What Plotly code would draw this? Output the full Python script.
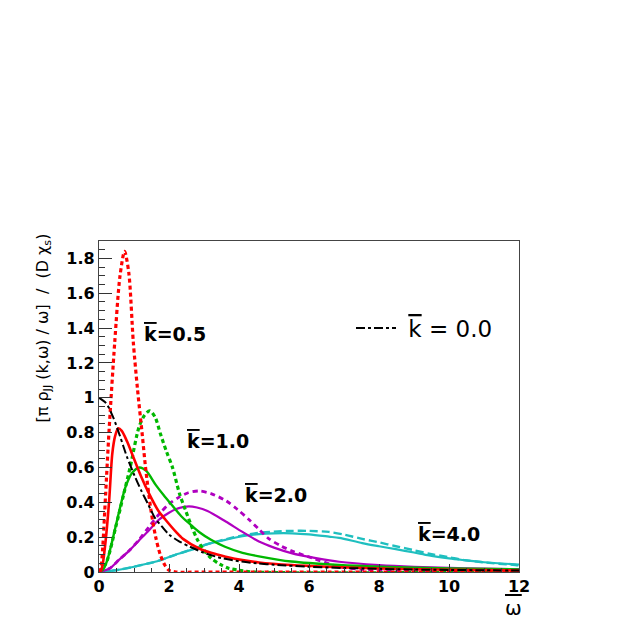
import plotly.graph_objects as go

# ---------------- data ----------------
w_k00 = [0, 0.2, 0.4, 0.6, 0.8, 1.0, 1.2, 1.4, 1.6, 1.8, 2.0, 2.3, 2.6, 3.0, 3.5, 4.0, 4.5, 5, 6, 7, 8, 9, 10, 11, 12]
v_k00 = [1.0, 0.97, 0.89, 0.78, 0.66, 0.56, 0.47, 0.39, 0.31, 0.26, 0.215, 0.175, 0.145, 0.11, 0.08, 0.062, 0.05, 0.042, 0.03, 0.023, 0.018, 0.014, 0.012, 0.010, 0.008]

w_k05_solid = [0, 0.05, 0.11, 0.19, 0.29, 0.38, 0.46, 0.55, 0.65, 0.8, 1.0, 1.2, 1.43, 1.7, 1.9, 2.2, 2.4, 2.86, 3.2, 3.62, 4.1, 4.57, 5.5, 6.5, 8, 10, 12]
v_k05_solid = [0, 0.005, 0.05, 0.18, 0.41, 0.68, 0.78, 0.825, 0.81, 0.75, 0.65, 0.55, 0.45, 0.35, 0.30, 0.23, 0.19, 0.135, 0.11, 0.088, 0.068, 0.055, 0.04, 0.03, 0.02, 0.013, 0.009]

w_k05_dot = [0, 0.05, 0.1, 0.19, 0.29, 0.45, 0.6, 0.73, 0.85, 0.98, 1.1, 1.24, 1.33, 1.48, 1.62, 1.75, 1.88, 2.0, 2.2, 3, 12]
v_k05_dot = [0, 0.02, 0.12, 0.45, 0.82, 1.32, 1.70, 1.84, 1.72, 1.32, 1.05, 0.78, 0.60, 0.36, 0.2, 0.1, 0.04, 0.01, 0.0, 0.0, 0.0]

w_k10_solid = [0, 0.12, 0.24, 0.38, 0.52, 0.76, 0.95, 1.16, 1.35, 1.62, 1.85, 2.1, 2.35, 2.6, 2.86, 3.2, 3.6, 4.1, 4.57, 5.5, 6.86, 8, 10, 12]
v_k10_solid = [0, 0.015, 0.07, 0.18, 0.30, 0.49, 0.57, 0.60, 0.58, 0.50, 0.44, 0.38, 0.32, 0.275, 0.23, 0.185, 0.145, 0.11, 0.09, 0.06, 0.04, 0.03, 0.02, 0.015]

w_k10_dot = [0, 0.2, 0.48, 0.71, 0.9, 1.14, 1.3, 1.45, 1.6, 1.76, 1.93, 2.1, 2.3, 2.48, 2.65, 2.8, 3.0, 3.2, 3.45, 3.7, 4.0, 4.4, 12]
v_k10_dot = [0, 0.05, 0.26, 0.45, 0.61, 0.83, 0.90, 0.925, 0.89, 0.79, 0.69, 0.60, 0.45, 0.35, 0.26, 0.19, 0.125, 0.08, 0.045, 0.022, 0.01, 0.0, 0.0]

w_k20_solid = [0, 0.3, 0.57, 0.85, 1.14, 1.43, 1.71, 2.0, 2.19, 2.4, 2.57, 2.8, 3.1, 3.62, 4.1, 4.57, 5.0, 5.52, 6.2, 6.86, 8, 9, 10, 11, 12]
v_k20_solid = [0, 0.02, 0.07, 0.12, 0.18, 0.24, 0.30, 0.34, 0.36, 0.372, 0.377, 0.37, 0.35, 0.29, 0.23, 0.175, 0.14, 0.107, 0.08, 0.059, 0.04, 0.03, 0.024, 0.019, 0.016]

w_k20_dot = [0, 0.3, 0.57, 0.85, 1.14, 1.43, 1.71, 2.0, 2.29, 2.55, 2.86, 3.2, 3.62, 3.95, 4.29, 4.57, 4.86, 5.2, 5.52, 6.1, 6.86, 7.5, 8.5, 10, 12]
v_k20_dot = [0, 0.02, 0.07, 0.12, 0.185, 0.26, 0.33, 0.39, 0.43, 0.455, 0.465, 0.45, 0.41, 0.36, 0.30, 0.245, 0.19, 0.15, 0.12, 0.08, 0.03, 0.015, 0.005, 0.0, 0.0]

w_k40_solid = [0, 0.48, 1.0, 1.43, 1.71, 2.2, 2.67, 3.1, 3.62, 4.1, 4.57, 5.0, 5.52, 6.0, 6.57, 6.86, 7.52, 8.0, 8.48, 9.0, 9.43, 10.0, 10.38, 11.0, 11.9, 12]
v_k40_solid = [0, 0.01, 0.03, 0.05, 0.065, 0.10, 0.13, 0.16, 0.185, 0.205, 0.217, 0.222, 0.222, 0.216, 0.203, 0.196, 0.166, 0.148, 0.131, 0.112, 0.095, 0.078, 0.069, 0.056, 0.044, 0.043]

w_k40_dash = [0, 0.48, 1.0, 1.43, 1.71, 2.2, 2.67, 3.1, 3.62, 4.1, 4.57, 5.0, 5.52, 6.0, 6.57, 7.0, 7.52, 8.0, 8.48, 9.0, 9.43, 10.0, 10.38, 11.0, 11.9, 12]
v_k40_dash = [0, 0.01, 0.03, 0.05, 0.065, 0.10, 0.13, 0.16, 0.188, 0.21, 0.225, 0.232, 0.236, 0.236, 0.23, 0.215, 0.19, 0.17, 0.148, 0.125, 0.105, 0.085, 0.07, 0.055, 0.04, 0.038]

y_tickvals = [0, 0.2, 0.4, 0.6, 0.8, 1.0, 1.2, 1.4, 1.6, 1.8]
y_ticktext = ["0", "0.2", "0.4", "0.6", "0.8", "1", "1.2", "1.4", "1.6", "1.8"]
x_tickvals = [0, 2, 4, 6, 8, 10, 12]
x_ticktext = ["0", "2", "4", "6", "8", "10", "12"]

OVER = '<span style="text-decoration:overline">%s</span>'
label_vals = ["0.5", "1.0", "2.0", "4.0"]
label_x = [2.17, 3.39, 5.07, 9.99]
label_y = [1.366, 0.754, 0.44, 0.217]

# ---------------- styles ----------------
RED = "#ff0000"
GREEN = "#00b800"
MAG = "#b000c0"
CYAN = "#1fbfbf"
FONT = "DejaVu Sans, Verdana, sans-serif"

fig = go.Figure()

def add(w, v, color, dash, width, name=None, legend=False):
    fig.add_trace(go.Scatter(
        x=w, y=v, mode="lines",
        line=dict(color=color, dash=dash, width=width, shape="spline", smoothing=0.8),
        name=name if name else "", showlegend=legend, hoverinfo="skip"))

add(w_k40_solid, v_k40_solid, CYAN, "solid", 2.2)
add(w_k40_dash, v_k40_dash, CYAN, "8px,4px", 2.4)
add(w_k20_solid, v_k20_solid, MAG, "solid", 2.2)
add(w_k20_dot, v_k20_dot, MAG, "5px,4px", 2.8)
add(w_k10_solid, v_k10_solid, GREEN, "solid", 2.4)
add(w_k10_dot, v_k10_dot, GREEN, "4px,3px", 3.2)
add(w_k05_solid, v_k05_solid, RED, "solid", 2.6)
add(w_k05_dot, v_k05_dot, RED, "4px,3px", 3.2)
add(w_k00, v_k00, "black", "dashdot", 2, name=" " + (OVER % "k") + " = 0.0", legend=True)

for val, x, y in zip(label_vals, label_x, label_y):
    fig.add_annotation(x=x, y=y, xref="x", yref="y", text=(OVER % "k") + "=" + val, showarrow=False,
                       font=dict(family=FONT, size=19, color="black", weight="bold"),
                       xanchor="center", yanchor="middle")

# axis titles as annotations (aligned like the original)
fig.add_annotation(x=-0.133, y=0.736, xref="paper", yref="paper",
                   text="[\u03c0 \u03c1<sub>JJ</sub> (k,\u03c9) / \u03c9]  /  (D \u03c7<sub>s</sub>)",
                   textangle=-90, showarrow=False,
                   font=dict(family=FONT, size=16, color="black"),
                   xanchor="center", yanchor="middle")
fig.add_annotation(x=0.986, y=-0.11, xref="paper", yref="paper",
                   text=OVER % "\u03c9", showarrow=False,
                   font=dict(family=FONT, size=20, color="black"),
                   xanchor="center", yanchor="middle")

fig.update_layout(
    width=615, height=615,
    margin=dict(l=91, r=104, t=233, b=51),
    paper_bgcolor="white", plot_bgcolor="white",
    showlegend=True,
    legend=dict(x=0.6, y=0.737, xanchor="left", yanchor="middle",
                bgcolor="rgba(0,0,0,0)", borderwidth=0,
                font=dict(family=FONT, size=23, color="black"),
                itemwidth=40),
    xaxis=dict(range=[0, 12], tickvals=x_tickvals, ticktext=x_ticktext,
               ticks="inside", ticklen=8, tickwidth=1, tickcolor="#333",
               minor=dict(dtick=0.5, ticks="inside", ticklen=4, tickcolor="#333"),
               showline=True, linecolor="#444", linewidth=1.2, mirror=True,
               showgrid=False, zeroline=False,
               tickfont=dict(family=FONT, size=16, color="black", weight="bold")),
    yaxis=dict(range=[0, 1.9], tickvals=y_tickvals, ticktext=y_ticktext,
               ticks="inside", ticklen=13, tickwidth=1, tickcolor="#333",
               minor=dict(dtick=0.05, ticks="inside", ticklen=6, tickcolor="#333"),
               showline=True, linecolor="#444", linewidth=1.2, mirror=True,
               showgrid=False, zeroline=False,
               tickfont=dict(family=FONT, size=16, color="black", weight="bold")),
)

fig.write_html("out.html")
